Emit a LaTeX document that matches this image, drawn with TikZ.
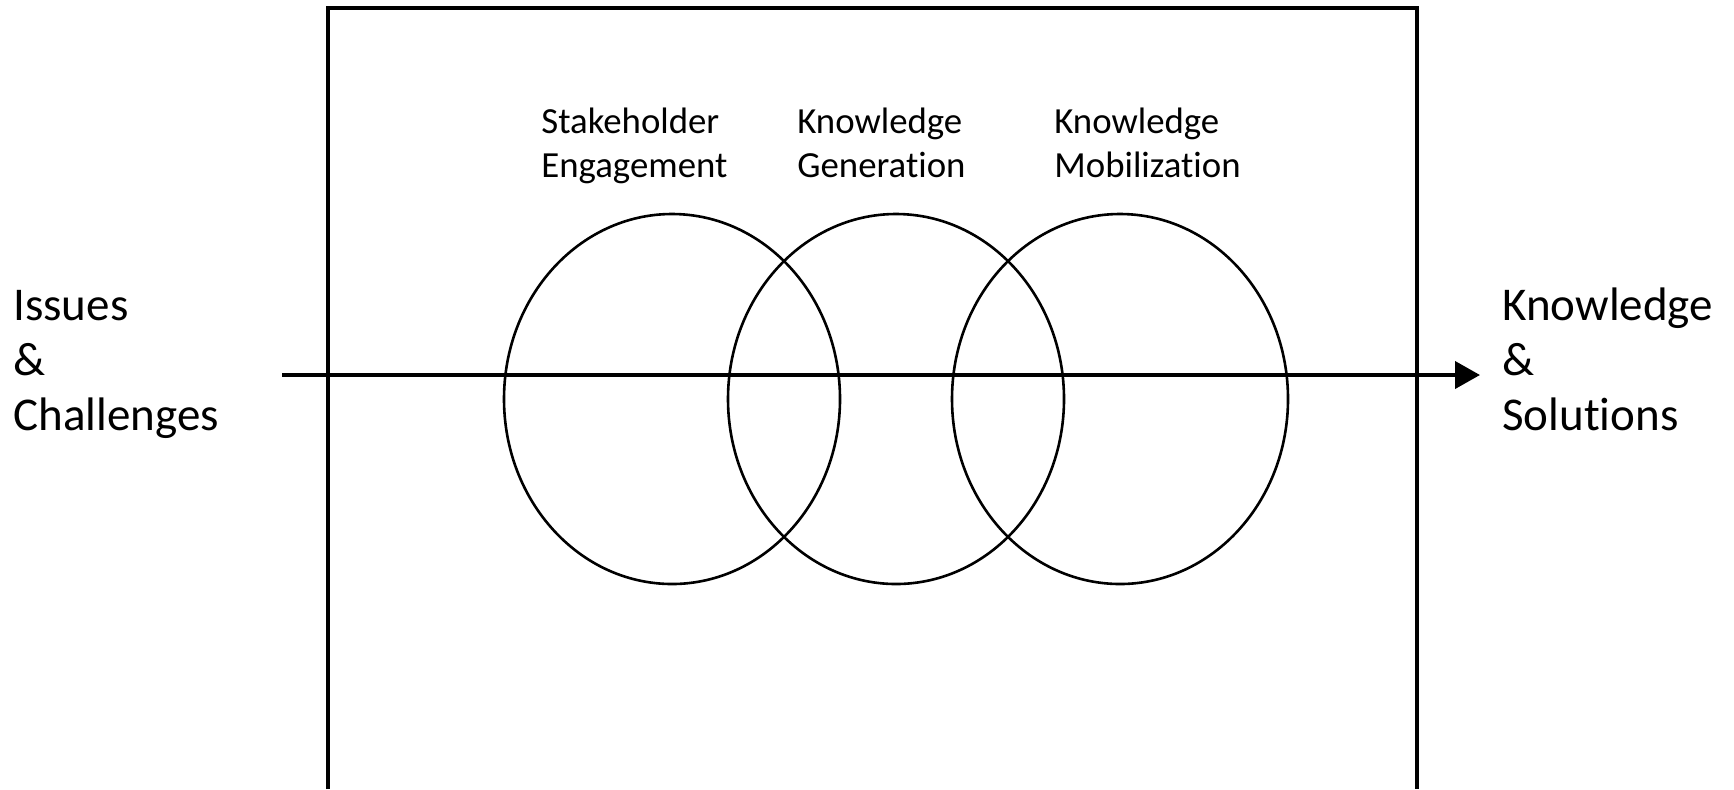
\documentclass[tikz,border=0pt]{standalone}
\usepackage{fontspec}
\setmainfont{Carlito}[Ligatures=NoCommon]
\usetikzlibrary{arrows.meta,shapes.geometric}

\begin{document}
\begin{tikzpicture}[x=0.5pt,y=-0.5pt,
    ring/.style={draw, ellipse, line width=1.3pt, minimum width=168pt, minimum height=185pt, inner sep=0pt},
    stage/.style={anchor=base west, align=left, inner sep=0pt, font=\fontsize{18.4}{22}\selectfont},
    side/.style={anchor=base west, align=left, inner sep=0pt, font=\fontsize{23.5}{27.5}\selectfont},
    flow/.style={line width=2pt, -{Triangle[length=12.5pt,width=13.5pt]}}]
    \useasboundingbox (0,0) rectangle (1734,789);
    % Draw the frame
    \draw[line width=2pt] (328,789) -- (328,8) -- (1417,8) -- (1417,789);
    % Draw the three rings
    \node[ring] (engage) at (672,399) {};
    \node[ring] (generate) at (896,399) {};
    \node[ring] (mobilize) at (1120,399) {};
    % Label the rings
    \node[stage] (engagetxt) at (541,177) {Stakeholder\\Engagement};
    \node[stage] (generatetxt) at (797,177) {Knowledge\\Generation};
    \node[stage] (mobilizetxt) at (1054,177) {Knowledge\\Mobilization};
    % Input and output
    \node[side] (issues) at (13,430) {Issues\\\&\\Challenges};
    \node[side] (solutions) at (1502,430) {Knowledge\\\&\\Solutions};
    % Draw the flow through the rings
    \coordinate (start) at (282,375);
    \draw[flow] (start) -- ([xshift=-11pt]start -| solutions.west);
\end{tikzpicture}
\end{document}
